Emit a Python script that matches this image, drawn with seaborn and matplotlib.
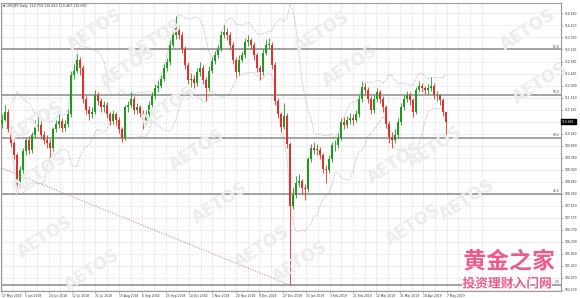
import numpy as np
import pandas as pd
import matplotlib
matplotlib.use("Agg")
import matplotlib.pyplot as plt
import matplotlib.patheffects as pe
import matplotlib.transforms as mtransforms
import seaborn as sns

# ---------------- data (USDJPY daily, ~2 sessions per candle) -------------
first_open = 110.60
closes = [110.75, 111.05, 110.40, 109.90, 109.45, 108.35, 108.90, 109.60, 110.00, 109.65,
          110.20, 110.50, 110.55, 110.20, 110.00, 109.90, 109.70, 110.40, 110.60, 110.70,
          110.45, 110.60, 110.95, 112.40, 112.55, 112.95, 112.65, 111.50, 111.10, 110.95,
          111.05, 111.65, 111.45, 111.20, 111.30, 110.95, 110.70, 110.95, 110.75, 110.40,
          110.10, 111.20, 111.30, 111.50, 111.10, 111.20, 111.00, 110.75, 110.95, 111.30,
          111.60, 111.90, 112.00, 112.25, 112.65, 112.85, 113.50, 113.85, 114.10, 113.85,
          113.35, 112.75, 112.20, 112.25, 112.10, 112.50, 112.65, 112.20, 111.90, 112.55,
          112.90, 113.10, 113.35, 113.85, 113.95, 113.85, 113.50, 112.95, 112.50, 112.95,
          113.10, 113.60, 113.65, 113.50, 113.10, 112.65, 112.50, 113.20, 113.50, 113.50,
          112.75, 111.45, 110.95, 110.50, 110.90, 109.85, 107.60, 108.00, 108.45, 108.50,
          108.25, 108.20, 109.30, 109.70, 109.65, 109.65, 109.45, 108.95, 108.90, 109.30,
          109.82, 109.82, 110.08, 110.65, 110.55, 110.75, 110.80, 110.75, 110.95, 111.50,
          111.95, 111.85, 111.50, 111.10, 111.50, 111.75, 111.50, 111.20, 110.60, 110.12,
          110.00, 110.20, 110.65, 111.20, 111.50, 111.65, 111.48, 111.03, 111.85, 111.98,
          111.90, 111.85, 111.90, 112.00, 111.65, 111.65, 111.48, 111.05, 110.68]
highs = [110.95, 111.30, 111.15, 110.50, 110.05, 109.55, 109.05, 109.70, 110.10, 110.15,
         110.30, 110.75, 110.90, 110.70, 110.35, 110.20, 110.05, 110.50, 110.75, 110.95,
         110.80, 110.75, 111.15, 112.55, 112.80, 113.15, 113.05, 112.75, 111.60, 111.25,
         111.20, 111.85, 111.75, 111.55, 111.45, 111.40, 111.05, 111.10, 111.05, 110.85,
         110.50, 111.30, 111.45, 111.75, 111.60, 111.35, 111.30, 111.10, 111.10, 111.45,
         111.75, 112.05, 112.15, 112.40, 112.80, 113.00, 113.65, 114.00, 114.55, 114.20,
         113.95, 113.45, 112.85, 112.45, 112.40, 112.65, 112.85, 112.75, 112.30, 112.70,
         113.05, 113.25, 113.50, 114.00, 114.20, 114.10, 113.95, 113.60, 113.05, 113.10,
         113.25, 113.75, 113.85, 113.75, 113.60, 113.20, 112.75, 113.35, 113.70, 113.75,
         113.60, 112.85, 111.55, 111.05, 111.35, 111.00, 109.95, 108.30, 108.70, 108.75,
         108.60, 108.40, 109.40, 109.85, 109.95, 109.85, 109.75, 109.55, 109.10, 109.45,
         109.95, 110.00, 110.25, 110.80, 110.85, 110.90, 111.00, 110.95, 111.10, 111.65,
         112.15, 112.10, 111.95, 111.60, 111.65, 111.90, 111.85, 111.60, 111.30, 110.70,
         110.30, 110.40, 110.80, 111.35, 111.65, 111.80, 111.75, 111.55, 111.95, 112.15,
         112.10, 112.00, 112.05, 112.30, 112.10, 111.80, 111.70, 111.55, 111.05]
lows = [110.45, 110.70, 110.30, 109.75, 109.30, 108.10, 108.25, 108.80, 109.45, 109.50,
        109.55, 110.10, 110.35, 110.05, 109.85, 109.70, 109.40, 109.60, 110.30, 110.45,
        110.30, 110.35, 110.50, 110.85, 112.25, 112.45, 112.40, 111.35, 110.95, 110.75,
        110.80, 110.95, 111.30, 111.05, 111.05, 110.80, 110.55, 110.60, 110.55, 110.25,
        109.95, 110.00, 111.05, 111.20, 110.95, 110.95, 110.85, 110.40, 110.60, 110.85,
        111.20, 111.50, 111.75, 111.90, 112.15, 112.55, 112.75, 113.40, 113.70, 113.70,
        113.20, 112.60, 112.05, 111.95, 111.90, 112.00, 112.35, 112.05, 111.45, 111.80,
        112.45, 112.80, 113.00, 113.25, 113.75, 113.65, 113.35, 112.80, 112.30, 112.40,
        112.85, 113.00, 113.45, 113.35, 112.95, 112.50, 112.20, 112.40, 113.10, 113.35,
        112.60, 111.30, 110.80, 110.30, 110.40, 109.70, 104.70, 107.50, 107.90, 108.30,
        108.05, 107.80, 108.10, 109.20, 109.50, 109.45, 109.30, 108.80, 108.45, 108.80,
        109.20, 109.60, 109.70, 110.00, 110.40, 110.45, 110.60, 110.55, 110.65, 110.85,
        111.40, 111.70, 111.35, 110.95, 111.00, 111.40, 111.35, 111.05, 110.45, 109.90,
        109.70, 109.90, 110.10, 110.55, 111.10, 111.40, 111.30, 110.85, 110.95, 111.75,
        111.75, 111.70, 111.70, 111.80, 111.50, 111.45, 111.30, 110.90, 110.10]

date_labels = ["17 May 2018", "5 Jun 2018", "24 Jun 2018", "12 Jul 2018", "31 Jul 2018",
               "19 Aug 2018", "6 Sep 2018", "25 Sep 2018", "14 Oct 2018", "1 Nov 2018",
               "20 Nov 2018", "9 Dec 2018", "27 Dec 2018", "15 Jan 2019", "3 Feb 2019",
               "21 Feb 2019", "12 Mar 2019", "31 Mar 2019", "18 Apr 2019", "7 May 2019"]
price_ticks = [114.640, 114.200, 113.760, 113.320, 112.880, 112.440, 112.000, 111.560,
               111.120, 110.240, 109.800, 109.360, 108.920, 108.480, 108.040, 107.610,
               107.170, 106.730, 106.290, 105.850, 105.410, 104.970, 104.530]
grid_levels = [114.640, 114.200, 113.760, 113.320, 112.880, 112.440, 112.000, 111.560,
               111.120, 110.680, 110.240, 109.800, 109.360, 108.920, 108.480, 108.040,
               107.610, 107.170, 106.730, 106.290, 105.850, 105.410, 104.970, 104.530]
fib_levels = [113.32, 111.67, 110.10, 108.05, 104.71]
fib_names = ["61.8", "50.0", "38.2", "23.6", "0.0"]
trend_idx = [0, 96]
trend_price = [108.98, 104.70]
last_price = 110.683
header = "\u25BC USDJPY,Daily  110.750 110.843 110.467 110.683"
bb_window = 10
bb_k = 2.0

# ---------------- frame ----------------
W, H = 580, 298
sns.set_theme(style="white")
plt.rcParams["font.family"] = ["DejaVu Sans"]
fig = plt.figure(figsize=(W / 100, H / 100), dpi=100)
fig.patch.set_facecolor("white")
top_px, bot_px, left_px, right_px = 3.0, 290.6, 1.0, 561.0
ax = fig.add_axes([left_px / W, 1 - bot_px / H, (right_px - left_px) / W, (bot_px - top_px) / H])
ax.set_facecolor("white")

n = len(closes)
idx = np.arange(n)
opens = [first_open] + closes[:-1]
df = pd.DataFrame({"i": idx, "open": opens, "close": closes, "high": highs, "low": lows})
up = df["close"] >= df["open"]
green, red = "#1f9a1f", "#e3302a"
colors = np.where(up, green, red)

# x scale: one candle every 3 px, first at x=2
px_per = 3.0
x0_i = (left_px - 2.0) / px_per
x1_i = (right_px - 2.0) / px_per
ax.set_xlim(x0_i, x1_i)
ax.set_ylim(104.50, 115.02)

# grid
label_step = 23.42 / px_per
label_pos = -0.1 + label_step * np.arange(len(date_labels))
vgrid = -0.1 + (label_step / 2) * np.arange(2 * len(date_labels) + 2)
for v in vgrid:
    ax.axvline(v, color="#cdcdcd", lw=0.45, ls=(0, (1.2, 1.2)), zorder=0.3)
for g in grid_levels:
    ax.axhline(g, color="#cdcdcd", lw=0.45, ls=(0, (1.2, 1.2)), zorder=0.3)

# watermarks
wm_pos = [(95, 30), (128, 67), (36, 122), (40, 173), (45, 237), (92, 270), (155, 40),
          (168, 107), (197, 150), (220, 203), (262, 247), (322, 32), (350, 66), (395, 163),
          (413, 225), (300, 262), (528, 30), (540, 83), (435, 147), (467, 200)]
for (wx, wy) in wm_pos:
    fig.text(wx / W, 1 - wy / H, "AETOS", fontsize=12, fontweight="bold", color="#ececec",
             rotation=33, ha="center", va="center", zorder=0.2)

# fibonacci levels
blend = mtransforms.blended_transform_factory(ax.transAxes, ax.transData)
for lvl, name in zip(fib_levels, fib_names):
    ax.axhline(lvl, color="#8a8a8a", lw=1.1, zorder=1)
    ax.text(0.997, lvl + 0.03, name, transform=blend,
            fontsize=2.2, color="#444444", ha="right", va="bottom", zorder=11)

# trend line
sns.lineplot(x=trend_idx, y=trend_price, ax=ax, color="#c48a8a", lw=0.7,
             linestyle=(0, (1.2, 1.4)), zorder=1.5)

# bollinger bands
s = pd.Series(closes)
mid = s.rolling(bb_window, min_periods=4).mean()
sd = s.rolling(bb_window, min_periods=4).std(ddof=0)
bb = pd.DataFrame({"i": idx, "upper": mid + bb_k * sd, "lower": mid - bb_k * sd})
for col in ["upper", "lower"]:
    sns.lineplot(data=bb, x="i", y=col, ax=ax, color="#a0a0a0", lw=0.55,
                 linestyle=(0, (1, 1.3)), zorder=1.6)

# candles
ax.vlines(df["i"], df["low"], df["high"], colors=colors, lw=0.6, zorder=2)
body_lo = df[["open", "close"]].min(axis=1)
body_h = (df["close"] - df["open"]).abs().clip(lower=0.02)
ax.bar(df["i"], body_h, bottom=body_lo, width=0.7, color=colors, lw=0, zorder=3)

# axes styling
for sp in ax.spines.values():
    sp.set_color("#9a9a9a")
    sp.set_linewidth(0.8)
ax.set_xlabel("")
ax.set_ylabel("")
ax.yaxis.tick_right()
ax.set_yticks(price_ticks)
ax.set_yticklabels([f"{p:.3f}" for p in price_ticks], fontsize=2.2, color="#333333")
ax.set_xticks(label_pos)
ax.set_xticklabels(date_labels, fontsize=2.2, color="#333333", ha="left")
ax.tick_params(axis="y", length=1.5, width=0.4, pad=1.2, color="#777777", right=True, left=False)
ax.tick_params(axis="x", length=1.5, width=0.4, pad=0.8, color="#777777", bottom=True)

# current price box
ax.text(1.002, last_price, f"{last_price:.3f}", transform=blend,
        fontsize=2.2, color="white", ha="left", va="center", clip_on=False, zorder=6,
        bbox=dict(boxstyle="square,pad=0.3", fc="black", ec="black"))

# header
fig.text(3 / W, 1 - 6 / H, header, fontsize=2.3, color="#333333", ha="left", va="center")

# chinese watermark
stroke = [pe.withStroke(linewidth=1.6, foreground="white")]
fig.text(509 / W, 1 - 262 / H, "黄金之家", family=["Noto Sans CJK SC", "DejaVu Sans"],
         fontsize=16.5, fontweight="bold", color="#ec5b8c", ha="center", va="center",
         path_effects=stroke, zorder=10)
fig.text(507 / W, 1 - 284 / H, "投资理财入门网", family=["Noto Sans CJK SC", "DejaVu Sans"],
         fontsize=9.2, fontweight="bold", color="#ec5b8c", ha="center", va="center",
         path_effects=stroke, zorder=10)

fig.savefig("out.png", dpi=100, facecolor="white")
